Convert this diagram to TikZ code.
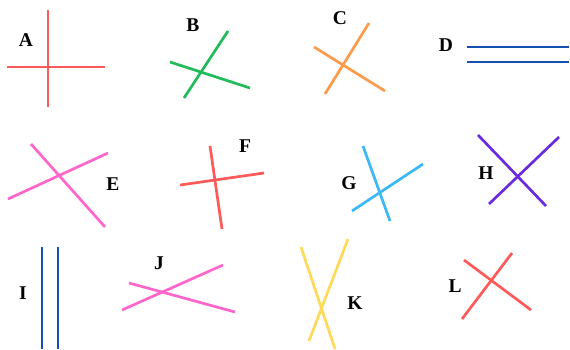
\documentclass[tikz,border=0pt]{standalone}
\usepackage{fontspec}
\setmainfont{Liberation Serif}
\begin{document}
\begin{tikzpicture}[x=1pt,y=-1pt,
  ln/.style={line width=2.7pt},
  lbl/.style={font=\fontsize{19.5}{21}\selectfont\bfseries, inner sep=0pt}]
\definecolor{cred}{HTML}{FF5A5A}
\definecolor{cgreen}{HTML}{22BB5A}
\definecolor{corange}{HTML}{FF9A4A}
\definecolor{cblue}{HTML}{1550B0}
\definecolor{cpink}{HTML}{FF66CC}
\definecolor{clblue}{HTML}{3BB8F5}
\definecolor{cpurple}{HTML}{6A2BE0}
\definecolor{cyellow}{HTML}{FFD95A}
\useasboundingbox (0,0) rectangle (570,349);
% A
\draw[ln,cred] (48,10) -- (48,107);
\draw[ln,cred] (7,67) -- (105,67);
\node[lbl] (A) at (26,40) {A};
% B
\draw[ln,cgreen] (228,31) -- (184,98);
\draw[ln,cgreen] (170,62) -- (250,88);
\node[lbl] (B) at (193,25) {B};
% C
\draw[ln,corange] (369,23) -- (325,94);
\draw[ln,corange] (314,47) -- (385,91);
\node[lbl] (C) at (340,18) {C};
% D
\draw[ln,cblue] (467,47) -- (569,47);
\draw[ln,cblue] (467,62) -- (569,62);
\node[lbl] (D) at (446,45) {D};
% E
\draw[ln,cpink] (31,144) -- (105,227);
\draw[ln,cpink] (8,199) -- (108,153);
\node[lbl] (E) at (113,184) {E};
% F
\draw[ln,cred] (210,146) -- (222,229);
\draw[ln,cred] (180,185) -- (264,173);
\node[lbl] (F) at (245,146) {F};
% G
\draw[ln,clblue] (363,146) -- (390,221);
\draw[ln,clblue] (352,211) -- (423,164);
\node[lbl] (G) at (349,183) {G};
% H
\draw[ln,cpurple] (478,135) -- (546,206);
\draw[ln,cpurple] (489,204) -- (559,137);
\node[lbl] (H) at (486,173) {H};
% I
\draw[ln,cblue] (42,247) -- (42,349);
\draw[ln,cblue] (58,247) -- (58,349);
\node[lbl] (I) at (23,293) {I};
% J
\draw[ln,cpink] (129,283) -- (235,312);
\draw[ln,cpink] (122,310) -- (223,265);
\node[lbl] (J) at (159,263) {J};
% K
\draw[ln,cyellow] (301,247) -- (335,349);
\draw[ln,cyellow] (348,239) -- (309,341);
\node[lbl] (K) at (355,303) {K};
% L
\draw[ln,cred] (464,260) -- (531,310);
\draw[ln,cred] (462,319) -- (512,253);
\node[lbl] (L) at (455,286) {L};
\end{tikzpicture}
\end{document}
